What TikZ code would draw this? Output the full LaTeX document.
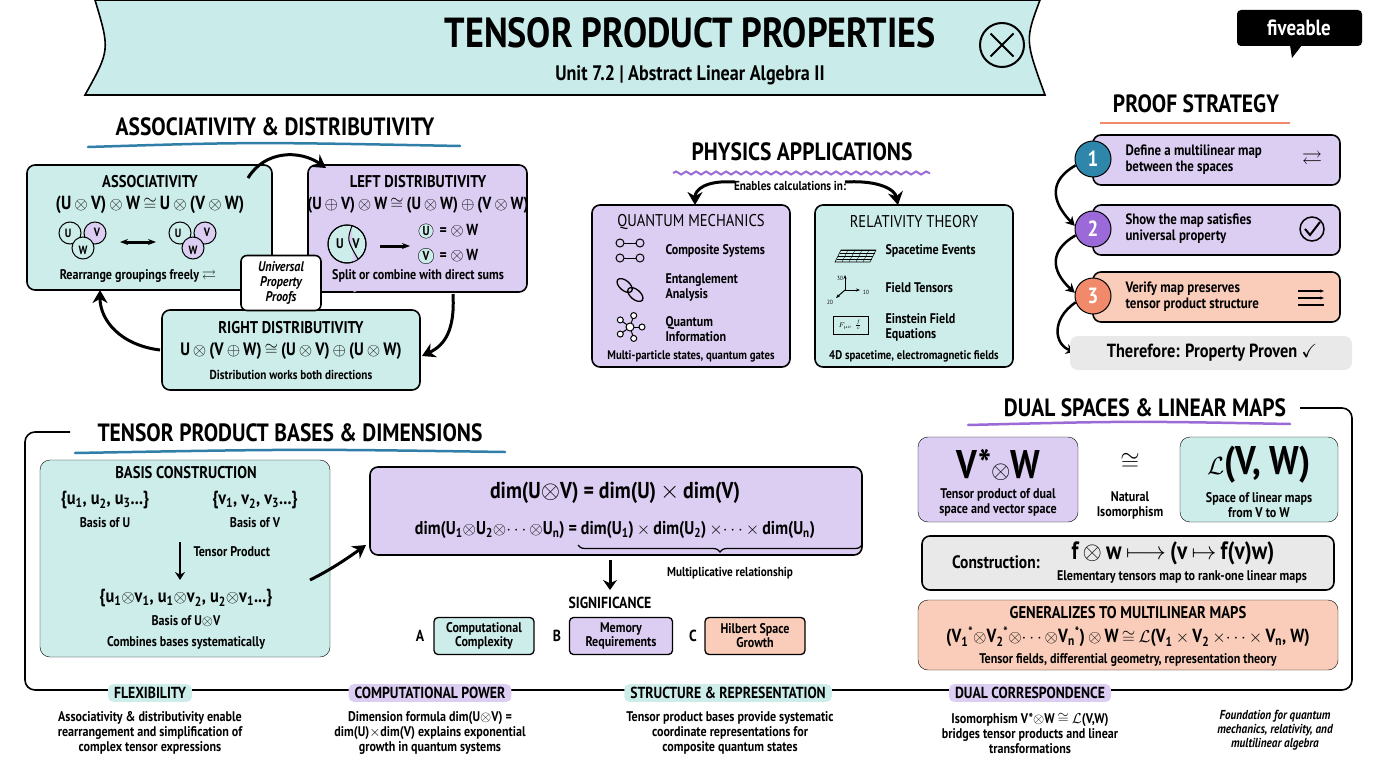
\documentclass[tikz,border=0pt]{standalone}
\usepackage{amsmath,amssymb}
\usepackage{fontspec}
\setmainfont{PT Sans}[FakeStretch=0.86]
\usetikzlibrary{arrows.meta,decorations.pathreplacing,decorations.pathmorphing,shapes.geometric}
\definecolor{tealf}{HTML}{CDEDEA}
\definecolor{purf}{HTML}{DCCDF2}
\definecolor{salf}{HTML}{F9CDBA}
\definecolor{greyf}{HTML}{E9E9E9}
\definecolor{bannerf}{HTML}{C9ECEA}
\definecolor{blueu}{HTML}{2F7FA8}
\definecolor{purpu}{HTML}{9A6AD6}
\definecolor{c1}{HTML}{2E86AB}
\definecolor{c2}{HTML}{9B6AD8}
\definecolor{c3}{HTML}{F08A6A}
\newcommand\fsz[2]{\fontsize{#1}{#2}\selectfont}
\newcommand\ot{\ensuremath{\otimes}}
\newcommand\op{\ensuremath{\oplus}}
\newcommand\iso{\ensuremath{\cong}}
\tikzset{
 box/.style={draw=black,line width=1.6pt,rounded corners=8pt},
 sbox/.style={rounded corners=10pt},
 head/.style={font=\fsz{25}{28}\bfseries},
 btitle/.style={font=\fsz{17}{19}\bfseries},
 txt/.style={font=\fsz{14}{15}\bfseries,align=center},
 big/.style={line width=3pt,-{Stealth[length=13pt,width=15pt]}},
 tag/.style={rounded corners=5pt,inner xsep=6pt,inner ysep=3pt,font=\fsz{16}{18}\bfseries},
 foot/.style={font=\fsz{14}{15}\bfseries,align=center}
}
\begin{document}
\begin{tikzpicture}[x=1pt,y=-1pt]
\useasboundingbox (0,0) rectangle (1376,768);
\fill[white] (0,0) rectangle (1376,768);
% banner
\draw[fill=bannerf,line width=1.6pt] (95,0) -- (1040,0) .. controls (1025,40) .. (1045,95) -- (85,95) .. controls (110,50) .. (95,0);
\node[font=\fsz{42}{44}\bfseries] (title) at (690,33) {TENSOR PRODUCT PROPERTIES};
\node[font=\fsz{21}{23}\bfseries] (sub) at (690,75) {Unit 7.2 | Abstract Linear Algebra II};
\node[draw,circle,line width=2pt,minimum size=44pt,inner sep=0pt] (otc) at (1002,45) {};
\draw[line width=2pt] (990.5,33.5) -- (1013.5,56.5) (990.5,56.5) -- (1013.5,33.5);
% logo
\fill[black,rounded corners=4pt] (1237,10) rectangle (1362,46);
\fill[black] (1290,45) -- (1302,45) -- (1292,58) -- cycle;
\node[white,font=\fsz{22}{22}\bfseries] (logo) at (1299,28) {fiveable};

% ===== Section 1
\node[head] (h1) at (275,127) {ASSOCIATIVITY \& DISTRIBUTIVITY};
\draw[blueu,line width=2.5pt,line cap=round] (88,147) .. controls (250,142) .. (460,146);
\draw[box,fill=tealf] (27,165) rectangle (272,290);
\node[btitle] (assoc) at (150,182) {ASSOCIATIVITY};
\node[font=\fsz{19}{20}\bfseries] (assoceq) at (150,205) {(U\,\ot\,V)\,\ot\,W\,\iso\,U\,\ot\,(V\,\ot\,W)};
\draw[line width=1pt,fill=purf] (95,233) circle (11);
\draw[line width=1pt,fill=tealf] (70,233) circle (11);
\draw[line width=1pt,fill=tealf] (83,248) circle (11);
\node[font=\fsz{12}{12}\bfseries] at (68,233) {U};
\node[font=\fsz{12}{12}\bfseries] at (97,232) {V};
\node[font=\fsz{12}{12}\bfseries] at (83,250) {W};
\draw[line width=1pt,fill=tealf] (180,233) circle (11);
\draw[line width=1pt,fill=purf] (205,233) circle (11);
\draw[line width=1pt,fill=purf] (193,248) circle (11);
\node[font=\fsz{12}{12}\bfseries] at (178,233) {U};
\node[font=\fsz{12}{12}\bfseries] at (207,232) {V};
\node[font=\fsz{12}{12}\bfseries] at (193,250) {W};
\draw[line width=3pt,{Stealth[length=8pt]}-{Stealth[length=8pt]}] (120,242) -- (156,242);
\node[txt] (rg) at (138,276) {Rearrange groupings freely \ensuremath{\rightleftarrows}};

\draw[box,fill=purf] (308,165) rectangle (527,292);
\node[btitle] (ld) at (418,182) {LEFT DISTRIBUTIVITY};
\node[font=\fsz{17.5}{19}\bfseries] (ldeq) at (418,205) {(U\,\op\,V)\,\ot\,W\,\iso\,(U\,\ot\,W)\,\op\,(V\,\ot\,W)};
\draw[line width=1pt,fill=tealf] (347,244) circle (19);
\fill[purf] (352,225.7) .. controls (347,240) .. (358,259) arc (-55:70:19) -- cycle;
\draw[line width=1pt] (352,225.7) .. controls (347,240) .. (358,259);
\draw[line width=1pt] (347,244) circle (19);
\node[font=\fsz{14}{14}\bfseries] at (340,244) {U};
\node[font=\fsz{14}{14}\bfseries] at (356,244) {V};
\draw[line width=3pt,-{Stealth[length=8pt]}] (380,246) -- (410,246);
\node[circle,draw,fill=tealf,inner sep=1pt,font=\fsz{13}{13}\bfseries] (uc) at (426,231) {U};
\node[anchor=west,font=\fsz{16}{16}\bfseries] at (436,231) {= \ot\,W};
\node[circle,draw,fill=tealf,inner sep=1.5pt,font=\fsz{13}{13}\bfseries] (vc) at (426,256) {V};
\node[anchor=west,font=\fsz{16}{16}\bfseries] at (436,256) {= \ot\,W};
\node[txt] (sc) at (418,276) {Split or combine with direct sums};

\draw[box,fill=tealf] (162,310) rectangle (420,390);
\node[btitle] (rd) at (291,328) {RIGHT DISTRIBUTIVITY};
\node[font=\fsz{18}{19}\bfseries] (rdeq) at (291,351) {U\,\ot\,(V\,\op\,W)\,\iso\,(U\,\ot\,V)\,\op\,(U\,\ot\,W)};
\node[txt,font=\fsz{13}{14}\bfseries] (dw) at (291,375) {Distribution works both directions};

\node[draw,line width=1.6pt,fill=white,rounded corners=6pt,minimum width=80pt,minimum height=55pt,align=center,font=\fsz{14}{15}\bfseries\itshape] (upp) at (281,283) {Universal\\Property\\Proofs};

\draw[big] (248,178) .. controls (265,150) and (300,150) .. (326,168);
\draw[big] (453,294) .. controls (455,330) and (445,345) .. (422,356);
\draw[big] (160,350) .. controls (120,345) and (100,320) .. (100,290);

% ===== Physics
\node[head] (h2) at (802,152) {PHYSICS APPLICATIONS};
\draw[purpu,line width=2pt,decorate,decoration={snake,amplitude=1.5pt,segment length=10pt}] (673,173) -- (930,173);
\node[font=\fsz{13}{14}\bfseries] (ecl) at (790,186) {Enables calculations in:};
\draw[big] (735,182) .. controls (705,180) and (695,190) .. (695,205);
\draw[big] (845,182) .. controls (880,180) and (895,190) .. (898,205);
\draw[box,fill=purf] (592,205) rectangle (790,367);
\node[btitle,font=\fsz{17}{19}] (qm) at (691,222) {QUANTUM MECHANICS};
\draw[box,fill=tealf] (815,205) rectangle (1013,367);
\node[btitle,font=\fsz{17}{19}] (rt) at (914,222) {RELATIVITY THEORY};
% QM icons
\draw[line width=1pt] (620,243) circle (4) (640,243) circle (4);
\draw[line width=1pt] (620,258) circle (4) (640,258) circle (4);
\draw[line width=1pt] (624,243)--(636,243) (624,258)--(636,258);
\draw[line width=1.3pt,rotate around={-40:(630,290)}] (623,290) ellipse (9 and 5) (637,290) ellipse (9 and 5);
\foreach \a in {0,72,144,216,288}{\draw[line width=1pt] (630,327) -- ++(\a:12); \draw[line width=1pt,fill=white] (630,327)++(\a:12) circle (3);}
\draw[line width=1pt,fill=white] (630,327) circle (4);
\node[anchor=west,align=left,font=\fsz{14}{15}\bfseries] at (662,251) {Composite Systems};
\node[anchor=west,align=left,font=\fsz{14}{15}\bfseries] at (662,288) {Entanglement\\Analysis};
\node[anchor=west,align=left,font=\fsz{14}{15}\bfseries] at (662,329) {Quantum\\Information};
\node[font=\fsz{12.5}{14}\bfseries] (mps) at (691,356) {Multi-particle states, quantum gates};
% Relativity icons
\draw[line width=0.6pt] (835,262) -- (870,262) -- (876,250) -- (841,250) -- cycle;
\foreach \i in {1,...,4}{\draw[line width=0.4pt] (835+7*\i,262) -- (841+7*\i,250); \draw[line width=0.4pt] (835+1.5*\i,262-3*\i) -- (870+1.5*\i,262-3*\i);}
\draw[line width=1pt,-{Stealth[length=4pt]}] (845,290) -- (845,275);
\draw[line width=1pt,-{Stealth[length=4pt]}] (845,290) -- (860,290);
\draw[line width=1pt,-{Stealth[length=4pt]}] (845,290) -- (836,298);
\node[font=\fsz{6}{6}] at (840,278) {30}; \node[font=\fsz{6}{6}] at (866,292) {10}; \node[font=\fsz{6}{6}] at (830,302) {20};
\draw[line width=0.8pt] (833,316) rectangle (868,334);
\node[font=\fsz{7}{7}\itshape] at (850,325) {$F_{\mu\nu}$ \,$\frac{f}{c}$};
\node[anchor=west,align=left,font=\fsz{14}{15}\bfseries] at (882,251) {Spacetime Events};
\node[anchor=west,align=left,font=\fsz{14}{15}\bfseries] at (882,288) {Field Tensors};
\node[anchor=west,align=left,font=\fsz{14}{15}\bfseries] at (882,327) {Einstein Field\\Equations};
\node[font=\fsz{12.5}{14}\bfseries] (st) at (914,356) {4D spacetime, electromagnetic fields};

% ===== Proof strategy
\node[head] (h3) at (1196,104) {PROOF STRATEGY};
\draw[c3,line width=2pt] (1100,123) -- (1290,123);
\draw[box,fill=purf] (1093,135) rectangle (1340,185);
\draw[box,fill=purf] (1093,205) rectangle (1340,255);
\draw[box,fill=salf] (1093,272) rectangle (1340,322);
\node[circle,fill=c1,draw,line width=1pt,minimum size=36pt,text=white,font=\fsz{22}{22}\bfseries] (s1) at (1093,159) {1};
\node[circle,fill=c2,draw,line width=1pt,minimum size=36pt,text=white,font=\fsz{22}{22}\bfseries] (s2) at (1093,229) {2};
\node[circle,fill=c3,draw,line width=1pt,minimum size=36pt,text=white,font=\fsz{22}{22}\bfseries] (s3) at (1093,296) {3};
\node[anchor=west,align=left,font=\fsz{15}{16}\bfseries] at (1122,160) {Define a multilinear map\\between the spaces};
\node[anchor=west,align=left,font=\fsz{15}{16}\bfseries] at (1122,229) {Show the map satisfies\\universal property};
\node[anchor=west,align=left,font=\fsz{15}{16}\bfseries] at (1122,297) {Verify map preserves\\tensor product structure};
\node[font=\fsz{20}{20}] at (1312,160) {\ensuremath{\rightleftarrows}};
\draw[line width=1.5pt] (1312,229) circle (12);
\draw[line width=2pt] (1305,229) -- (1310,235) -- (1320,222);
\draw[line width=1.2pt,-{Stealth[length=4pt]}] (1298,291) -- (1324,291);
\draw[line width=1.2pt,-{Stealth[length=4pt]}] (1298,298) -- (1324,298);
\draw[line width=1.2pt] (1298,305) -- (1324,305);
\draw[line width=2.5pt,-{Stealth[length=9pt,width=10pt]}] (s1.200) .. controls (1050,180) and (1050,200) .. (s2.170);
\draw[line width=2.5pt,-{Stealth[length=9pt,width=10pt]}] (s2.200) .. controls (1050,250) and (1050,270) .. (s3.170);
\draw[line width=2.5pt,-{Stealth[length=9pt,width=10pt]}] (s3.200) .. controls (1050,320) and (1055,345) .. (1075,352);
\draw[box,fill=greyf,draw=none] (1070,336) rectangle (1352,370);
\node[font=\fsz{19}{20}\bfseries] (tpp) at (1212,353) {Therefore: Property Proven \ensuremath{\checkmark}};

% ===== frame
\draw[line width=1.6pt,rounded corners=10pt] (70,432) -- (25,432) -- (25,690) -- (1352,690) -- (1352,408) -- (1300,408);

% ===== Bases
\node[head] (h4) at (290,433) {TENSOR PRODUCT BASES \& DIMENSIONS};
\draw[blueu,line width=2.5pt,line cap=round] (75,453) .. controls (300,449) .. (505,452);
\draw[sbox,fill=tealf] (40,460) rectangle (330,657);
\node[btitle] (bc) at (186,473) {BASIS CONSTRUCTION};
\node[font=\fsz{19}{20}\bfseries] (bu) at (105,500) {\{u\textsubscript{1}, u\textsubscript{2}, u\textsubscript{3}...\}};
\node[font=\fsz{14}{15}\bfseries] at (105,523) {Basis of U};
\node[font=\fsz{19}{20}\bfseries] (bv) at (255,500) {\{v\textsubscript{1}, v\textsubscript{2}, v\textsubscript{3}...\}};
\node[font=\fsz{14}{15}\bfseries] at (255,523) {Basis of V};
\draw[line width=2.5pt,-{Stealth[length=8pt,width=10pt]}] (180,542) -- (180,580);
\node[anchor=west,font=\fsz{14}{15}\bfseries] at (190,552) {Tensor Product};
\node[font=\fsz{19}{20}\bfseries] (bt) at (186,598) {\{u\textsubscript{1}\ot v\textsubscript{1}, u\textsubscript{1}\ot v\textsubscript{2}, u\textsubscript{2}\ot v\textsubscript{1}...\}};
\node[font=\fsz{14}{15}\bfseries] at (186,621) {Basis of U\ot V};
\node[font=\fsz{14}{15}\bfseries] at (186,643) {Combines bases systematically};
\draw[box,fill=purf] (370,467) rectangle (862,555);
\node[font=\fsz{23}{24}\bfseries] (d1) at (615,493) {dim(U\ot V) = dim(U)\,\ensuremath{\times}\,dim(V)};
\node[font=\fsz{18.5}{20}\bfseries] (d2) at (615,530) {dim(U\textsubscript{1}\ot U\textsubscript{2}\ot\ensuremath{\cdots}\ot U\textsubscript{n}) = dim(U\textsubscript{1})\,\ensuremath{\times}\,dim(U\textsubscript{2})\,\ensuremath{\times}\ensuremath{\cdots}\ensuremath{\times}\,dim(U\textsubscript{n})};
\draw[line width=1.2pt,decorate,decoration={brace,mirror,amplitude=7pt}] (578,545) -- (862,545);
\draw[big] (310,580) .. controls (330,570) and (345,560) .. (366,545);
\draw[line width=3pt,-{Stealth[length=10pt,width=14pt]}] (610,560) -- (610,590);
\node[font=\fsz{13}{14}\bfseries] (mr) at (730,573) {Multiplicative relationship};
\node[font=\fsz{16}{17}\bfseries] (sig) at (610,603) {SIGNIFICANCE};
\node[font=\fsz{16}{16}\bfseries] at (420,636) {A};
\node[font=\fsz{16}{16}\bfseries] at (557,636) {B};
\node[font=\fsz{16}{16}\bfseries] at (693,636) {C};
\node[draw,line width=1.3pt,fill=tealf,rounded corners=4pt,align=center,minimum width=100pt,minimum height=37pt,font=\fsz{14}{14}\bfseries] (sa) at (484,636) {Computational\\Complexity};
\node[draw,line width=1.3pt,fill=purf,rounded corners=4pt,align=center,minimum width=103pt,minimum height=37pt,font=\fsz{14}{14}\bfseries] (sb) at (621,636) {Memory\\Requirements};
\node[draw,line width=1.3pt,fill=salf,rounded corners=4pt,align=center,minimum width=100pt,minimum height=37pt,font=\fsz{14}{14}\bfseries] (sc2) at (755,636) {Hilbert Space\\Growth};

% ===== Dual
\node[head] (h5) at (1145,408) {DUAL SPACES \& LINEAR MAPS};
\draw[purpu,line width=2.5pt,line cap=round] (968,425) .. controls (1130,421) .. (1290,424);
\draw[sbox,fill=purf] (918,437) rectangle (1078,522);
\node[font=\fsz{40}{40}\bfseries] (vw) at (998,465) {V*\ot W};
\node[font=\fsz{14}{15}\bfseries,align=center] at (998,502) {Tensor product of dual\\space and vector space};
\node[font=\fsz{48}{48}] (isoc) at (1130,462) {\ensuremath{\cong}};
\node[font=\fsz{14}{15}\bfseries,align=center] at (1130,505) {Natural\\Isomorphism};
\draw[sbox,fill=tealf] (1180,437) rectangle (1338,522);
\node[font=\fsz{40}{40}\bfseries] (lvw) at (1259,465) {\ensuremath{\mathcal{L}}(V, W)};
\node[font=\fsz{14}{15}\bfseries,align=center] at (1259,505) {Space of linear maps\\from V to W};
\draw[box,fill=greyf] (922,536) rectangle (1334,590);
\node[font=\fsz{18}{19}\bfseries] (cons) at (996,562) {Construction:};
\node[font=\fsz{25}{26}\bfseries] (fw) at (1173,553) {f\,\ot\,w\,\ensuremath{\longmapsto}\,(v\,\ensuremath{\mapsto}\,f(v)w)};
\node[font=\fsz{14}{15}\bfseries] at (1182,577) {Elementary tensors map to rank-one linear maps};
\draw[sbox,fill=salf] (918,600) rectangle (1338,670);
\node[btitle] (gen) at (1128,613) {GENERALIZES TO MULTILINEAR MAPS};
\node[font=\fsz{19}{20}\bfseries] (geq) at (1128,637) {(V\textsubscript{1}\textsuperscript{*}\ot V\textsubscript{2}\textsuperscript{*}\ot\ensuremath{\cdots}\ot V\textsubscript{n}\textsuperscript{*})\,\ot\,W\,\iso\,\ensuremath{\mathcal{L}}(V\textsubscript{1}\,\ensuremath{\times}\,V\textsubscript{2}\,\ensuremath{\times}\ensuremath{\cdots}\ensuremath{\times}\,V\textsubscript{n}, W)};
\node[font=\fsz{14}{15}\bfseries] at (1128,660) {Tensor fields, differential geometry, representation theory};

% ===== Footer
\node[tag,fill=tealf] (f1) at (150,693) {FLEXIBILITY};
\node[tag,fill=purf] (f2) at (430,693) {COMPUTATIONAL POWER};
\node[tag,fill=tealf] (f3) at (728,693) {STRUCTURE \& REPRESENTATION};
\node[tag,fill=purf] (f4) at (1030,693) {DUAL CORRESPONDENCE};
\node[foot] at (150,733) {Associativity \& distributivity enable\\rearrangement and simplification of\\complex tensor expressions};
\node[foot] at (430,733) {Dimension formula dim(U\ot V) =\\dim(U)\ensuremath{\times}dim(V) explains exponential\\growth in quantum systems};
\node[foot] at (730,733) {Tensor product bases provide systematic\\coordinate representations for\\composite quantum states};
\node[foot] at (1030,733) {Isomorphism V*\ot W \iso\ \ensuremath{\mathcal{L}}(V,W)\\bridges tensor products and linear\\transformations};
\node[foot,font=\fsz{13}{14}\bfseries\itshape] at (1275,730) {Foundation for quantum\\mechanics, relativity, and\\multilinear algebra};
\end{tikzpicture}
\end{document}
